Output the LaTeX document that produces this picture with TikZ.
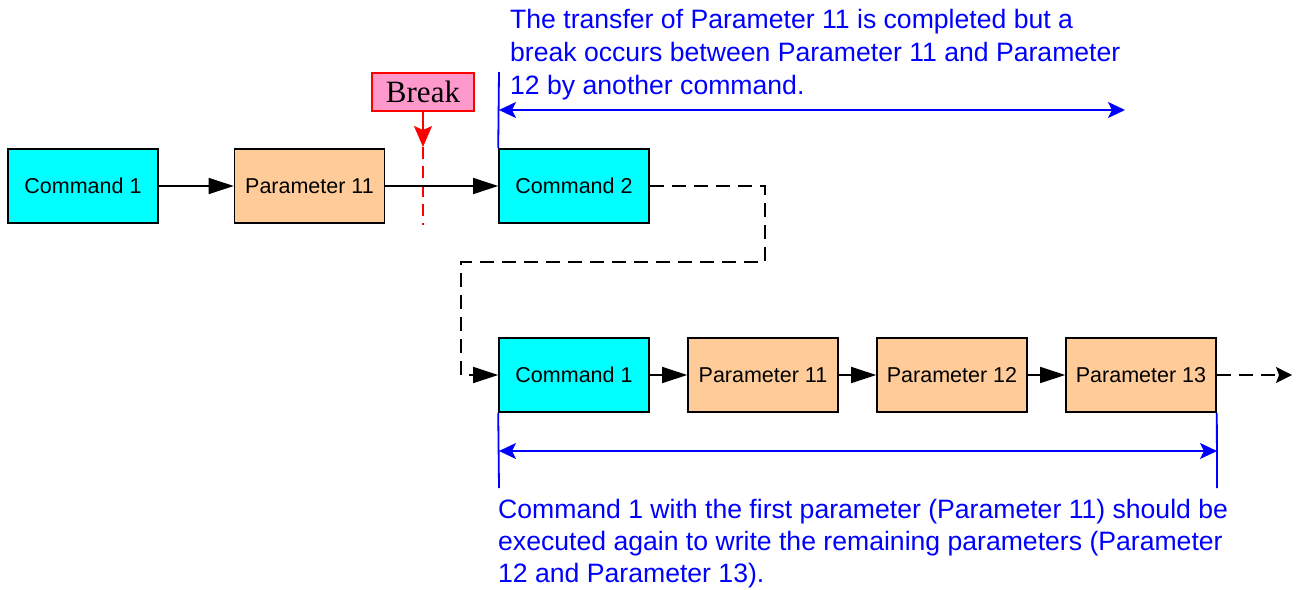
\documentclass[tikz,border=0pt]{standalone}
\usepackage{fontspec}
\setmainfont{Liberation Sans}
\newfontfamily\breakfont{Liberation Serif}
\usetikzlibrary{arrows.meta}
\definecolor{cmdc}{HTML}{00FFFF}
\definecolor{parc}{HTML}{FFCC99}
\definecolor{brkc}{HTML}{FF99CC}
\definecolor{bluec}{HTML}{0000FF}
\definecolor{redc}{HTML}{FF0000}
\tikzset{
  box/.style={draw=black, line width=1.6pt, minimum width=150pt, minimum height=74pt,
    inner sep=0pt, font=\fontsize{21.5}{26}\selectfont},
  cmd/.style={box, fill=cmdc},
  par/.style={box, fill=parc},
  flow/.style={line width=1.4pt, -{Triangle[length=25pt,width=16pt]}},
  dflow/.style={line width=1.4pt, dash pattern=on 14pt off 8pt},
  bline/.style={bluec, line width=1.8pt},
  barrow/.style={bluec, line width=1.8pt, {Stealth[length=17pt,width=16pt,inset=4pt]}-{Stealth[length=17pt,width=16pt,inset=4pt]}},
  note/.style={text=bluec, inner sep=0pt, align=left, font=\fontsize{26.6}{33}\selectfont},
  lownote/.style={note, font=\fontsize{26.6}{32}\selectfont},
}
\begin{document}
\begin{tikzpicture}[x=1pt,y=-1pt]
\useasboundingbox (0,0) rectangle (1300,589);
% top row
\node[cmd] (c1) at (83,186) {Command 1};
\node[par] (p11) at (309.5,186) {Parameter 11};
\node[cmd] (c2) at (574,186) {Command 2};
% bottom row
\node[cmd] (bc1) at (574,375) {Command 1};
\node[par] (bp11) at (763,375) {Parameter 11};
\node[par] (bp12) at (952,375) {Parameter 12};
\node[par] (bp13) at (1141,375) {Parameter 13};
% break
\node[draw=redc, fill=brkc, line width=1.4pt, minimum width=102pt, minimum height=38pt, inner sep=0pt,
  font=\breakfont\fontsize{31}{33}\selectfont] (brk) at (423,92) {Break};
\coordinate (rt) at (423,147);
\coordinate (rb) at (423,225);
\draw[redc, line width=1.4pt, -{Stealth[length=21pt,width=18pt,inset=4pt]}] (brk.south) -- (rt);
\draw[redc, line width=1.4pt, dash pattern=on 12pt off 7pt] (rt) -- (rb);
% flows
\draw[flow] (c1) -- (p11);
\draw[flow] (p11) -- (c2);
\draw[flow] (bc1) -- (bp11);
\draw[flow] (bp11) -- (bp12);
\draw[flow] (bp12) -- (bp13);
\coordinate (k1) at (765,262);
\coordinate (k2) at (461,375);
\draw[dflow, -{Triangle[length=25pt,width=16pt]}] (c2.east) -| (k1) -| (k2) -- (bc1.west);
\coordinate (endc) at (1292,375);
\draw[dflow, -{Stealth[length=16pt,width=16pt,inset=3pt]}] (bp13.east) -- (endc);
% blue top
\coordinate (t0) at (499,72);
\coordinate (ta) at (499,110);
\coordinate (tb) at (1125,110);
\draw[bline] (t0) -- (c2.north west);
\draw[barrow] (ta) -- (tb);
\node[note, anchor=north west] (n1) at (510,9) {The transfer of Parameter 11 is completed but a\\break occurs between Parameter 11 and Parameter\\12 by another command.};
% blue bottom
\coordinate (bl1) at (499,488);
\coordinate (bl2) at (1217,488);
\draw[bline] (bc1.south west) -- (bl1);
\draw[bline] (bp13.south east) -- (bl2);
\coordinate (ba) at (499,451);
\coordinate (bb) at (1217,451);
\draw[barrow] (ba) -- (bb);
\node[lownote, anchor=north west] (n2) at (498,499.5) {Command 1 with the first parameter (Parameter 11) should be\\executed again to write the remaining parameters (Parameter\\12 and Parameter 13).};
\end{tikzpicture}
\end{document}
